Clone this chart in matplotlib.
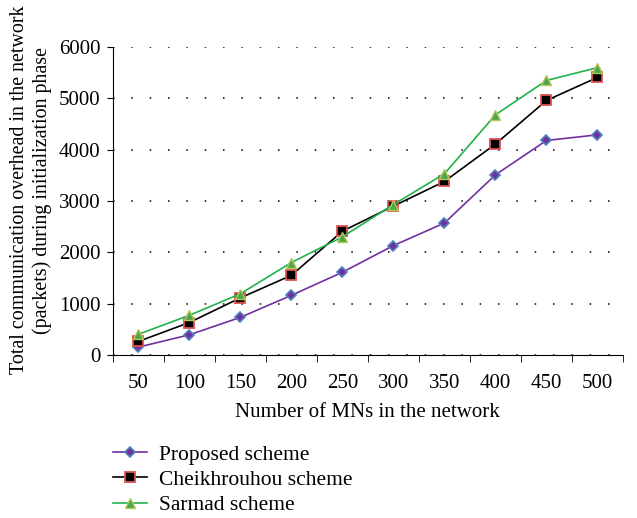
import numpy as np
import matplotlib.pyplot as plt

plt.rcParams['font.family'] = ['Liberation Serif', 'DejaVu Serif']

# data
mns = ['50', '100', '150', '200', '250', '300', '350', '400', '450', '500']
proposed = [150, 390, 730, 1160, 1610, 2130, 2570, 3510, 4180, 4290]
cheikhrouhou = [260, 630, 1110, 1550, 2410, 2900, 3380, 4110, 4960, 5410]
sarmad = [400, 770, 1190, 1800, 2300, 2930, 3530, 4680, 5350, 5600]
y_ticks = [0, 1000, 2000, 3000, 4000, 5000, 6000]

fig = plt.figure(figsize=(6.37, 5.18), dpi=100)
ax = fig.add_axes([0.177, 0.315, 0.801, 0.594])

x = np.arange(len(mns)) + 0.5

ax.plot(x, proposed, color='#7030A0', linewidth=1.2, marker='D', markersize=5,
        markerfacecolor='#7030A0', markeredgecolor='#4F81BD', markeredgewidth=1.2,
        label='Proposed scheme')
ax.plot(x, cheikhrouhou, color='black', linewidth=1.2, marker='s', markersize=6.5,
        markerfacecolor='black', markeredgecolor='#D9534F', markeredgewidth=1.3,
        label='Cheikhrouhou scheme')
ax.plot(x, sarmad, color='#22B14C', linewidth=1.2, marker='^', markersize=7,
        markerfacecolor='#4CA64C', markeredgecolor='#B5C95A', markeredgewidth=1.0,
        label='Sarmad scheme')

ax.set_xlim(0, len(mns))
ax.set_ylim(0, 6000)
ax.set_yticks(y_ticks)
ax.set_xticks(x)
ax.set_xticklabels(mns)
ax.set_xticks(np.arange(len(mns) + 1), minor=True)
ax.tick_params(axis='x', which='major', length=0, labelsize=15, pad=14)
ax.tick_params(axis='x', which='minor', length=5, direction='out')
ax.tick_params(axis='y', length=4, direction='out', labelsize=15, pad=5)

ax.grid(axis='y', color='black', linestyle=(0, (1, 11)), linewidth=1.1)
ax.set_axisbelow(True)
for s in ['top', 'right']:
    ax.spines[s].set_visible(False)

ax.set_xlabel('Number of MNs in the network', fontsize=15, labelpad=7)
ax.set_ylabel('Total communication overhead in the network\n(packets) during initialization phase',
              fontsize=14.4, linespacing=1.2)
ax.yaxis.set_label_coords(-0.12, 0.535)

handles, labels = ax.get_legend_handles_labels()
fig.legend(handles, labels, loc='lower left', bbox_to_anchor=(0.177, 0.005),
           frameon=False, fontsize=15.5, handlelength=1.6, labelspacing=0.25,
           handletextpad=0.55, borderpad=0, borderaxespad=0)

fig.savefig('out.png', dpi=100)
